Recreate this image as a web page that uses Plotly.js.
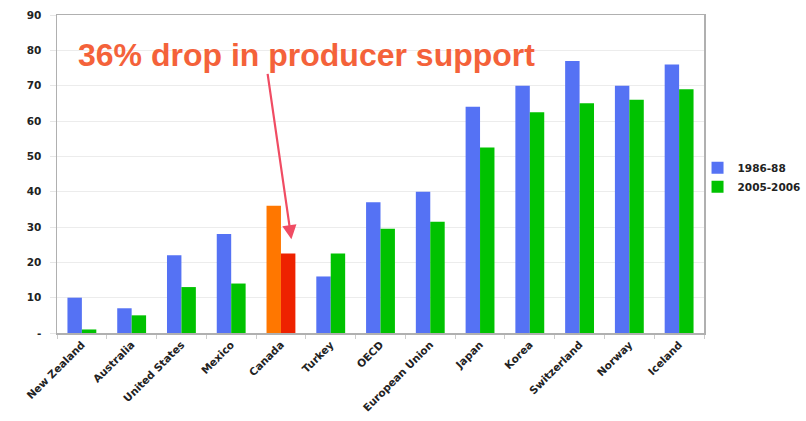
<!DOCTYPE html>
<html>
<head>
<meta charset="utf-8">
<script src="https://cdn.plot.ly/plotly-3.0.1.min.js"></script>
<style>html,body{margin:0;padding:0;background:#fff;}#chart{width:806px;height:421px;}</style>
</head>
<body>
<div id="chart"></div>
<script>
var categories = ["New Zealand","Australia","United States","Mexico","Canada","Turkey","OECD","European Union","Japan","Korea","Switzerland","Norway","Iceland"];
var series1986 = [10,7,22,28,36,16,37,40,64,70,77,70,76];
var series2005 = [1,5,13,14,22.5,22.5,29.5,31.5,52.5,62.5,65,66,69];
var yTickVals = [0,10,20,30,40,50,60,70,80,90];
var yTickText = ["-","10","20","30","40","50","60","70","80","90"];
var highlight = "Canada";

var blue = "#5572f4", green = "#00c200";
var c1 = categories.map(function(c){return c===highlight ? "#ff7700" : blue;});
var c2 = categories.map(function(c){return c===highlight ? "#ee2200" : green;});

var traces = [
  {type:"bar", name:"1986-88", x:categories, y:series1986, marker:{color:c1}},
  {type:"bar", name:"2005-2006", x:categories, y:series2005, marker:{color:c2}}
];

var tickFont = {family:"DejaVu Sans", size:10.5, color:"#222", weight:"bold"};
var layout = {
  width:806, height:421,
  margin:{l:57, r:102, t:15, b:88, autoexpand:false},
  paper_bgcolor:"#fff", plot_bgcolor:"#fff",
  barmode:"group", bargap:0.42, bargroupgap:0,
  font:{family:"DejaVu Sans", color:"#222"},
  xaxis:{type:"category", tickangle:-45, tickfont:tickFont, showline:true, linecolor:"#b0b0b0", linewidth:1.5, mirror:true,
    ticks:"outside", ticklen:4, tickcolor:"#ccc", tickson:"boundaries", showgrid:false, fixedrange:true},
  yaxis:{range:[0,90], tickvals:yTickVals, ticktext:yTickText, tickfont:tickFont, showline:true, linecolor:"#b0b0b0", linewidth:1.5, mirror:true,
    gridcolor:"#ececec", gridwidth:1, ticks:"outside", ticklen:6, tickcolor:"#e6e6e6", ticklabelstandoff:6, zeroline:false, fixedrange:true},
  legend:{x:0.99, y:0.49, xanchor:"left", yanchor:"middle", font:{family:"DejaVu Sans", size:10.5, color:"#222", weight:"bold"},
    bgcolor:"rgba(0,0,0,0)", itemwidth:30, tracegroupgap:0},
  annotations:[
    {xref:"paper", yref:"paper", x:0.386, y:0.874, text:"36% drop in producer support", showarrow:false,
     font:{family:"Liberation Sans", size:32, color:"#f4623a", weight:"bold"}, xanchor:"center", yanchor:"middle"},
    {xref:"x", yref:"y", x:4.21, y:26.5, ax:-24, ay:-167, text:"", showarrow:true, arrowhead:2, arrowsize:1.3, arrowwidth:2.2, arrowcolor:"#f04c63"}
  ]
};
Plotly.newPlot("chart", traces, layout, {displayModeBar:false, staticPlot:true});
</script>
</body>
</html>
